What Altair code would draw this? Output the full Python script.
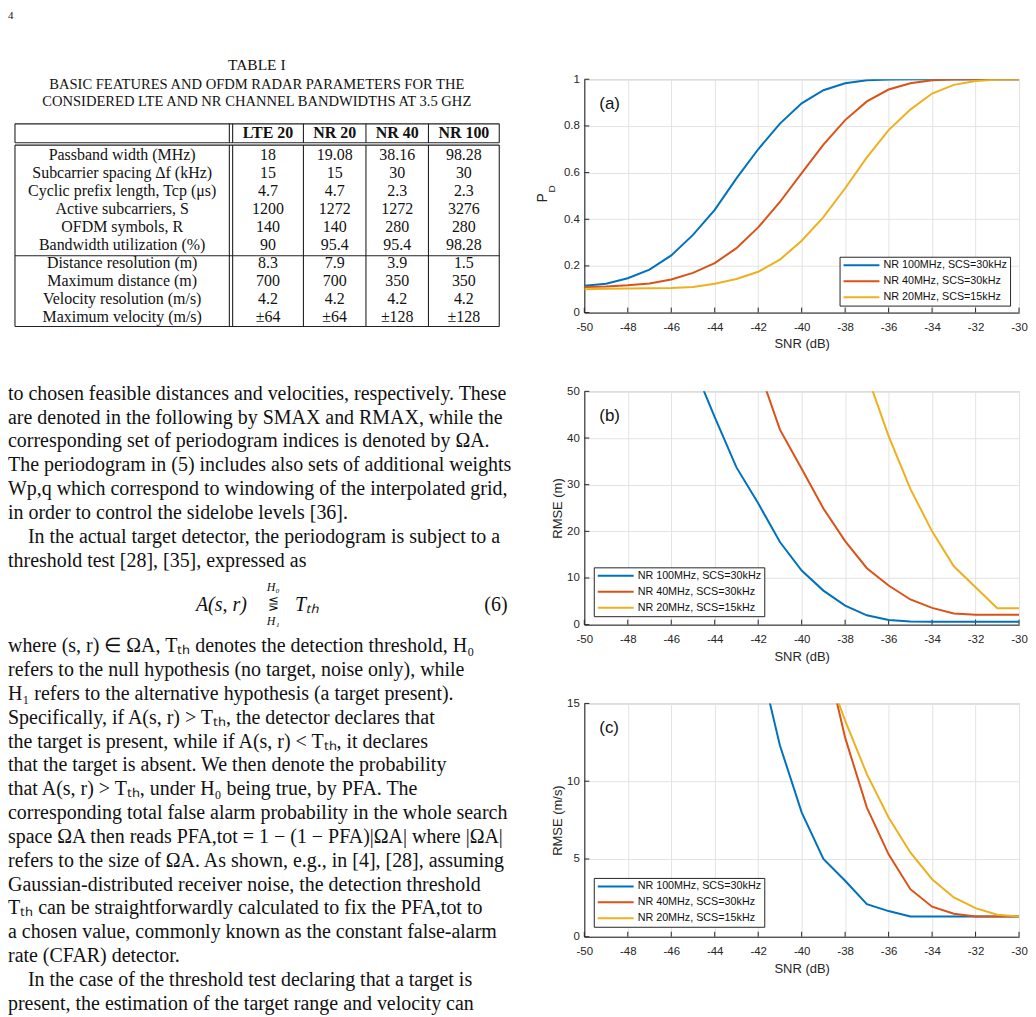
import altair as alt
import pandas as pd

# ------------------------------------------------------------------ data
snr_db = list(range(-50, -29))
series_names = ["NR 100MHz, SCS=30kHz", "NR 40MHz, SCS=30kHz", "NR 20MHz, SCS=15kHz"]
series_colors = ["#0072BD", "#D95319", "#EDB120"]

pd_nr100 = [0.115, 0.124, 0.147, 0.184, 0.245, 0.333, 0.44, 0.575, 0.70, 0.81, 0.897,
            0.953, 0.983, 0.996, 0.999, 1, 1, 1, 1, 1, 1]
pd_nr40 = [0.11, 0.112, 0.117, 0.125, 0.142, 0.17, 0.212, 0.276, 0.365, 0.474, 0.598,
           0.72, 0.825, 0.905, 0.956, 0.983, 0.996, 0.999, 1, 1, 1]
pd_nr20 = [0.10, 0.102, 0.103, 0.104, 0.105, 0.11, 0.124, 0.144, 0.175, 0.227, 0.308,
           0.409, 0.533, 0.665, 0.782, 0.87, 0.939, 0.976, 0.993, 0.999, 1.0]

range_nr100 = [None] * 5 + [55.7, 44.5, 33.7, 26.0, 17.7, 11.6, 7.3, 4.1, 2.0, 1.0, 0.7,
                            0.6, 0.6, 0.6, 0.6, 0.6]
range_nr40 = [None] * 8 + [55.2, 41.8, 33.4, 24.9, 17.9, 12.1, 8.4, 5.4, 3.6, 2.4, 2.1, 2.1, 2.1]
range_nr20 = [None] * 13 + [53.6, 40.4, 29.1, 20.0, 12.5, 8.0, 3.5, 3.5]

vel_nr100 = [None] * 8 + [18.2, 12.3, 8.0, 5.0, 3.6, 2.1, 1.65, 1.3, 1.3, 1.3, 1.3, 1.3, 1.3]
vel_nr40 = [None] * 11 + [18.8, 12.8, 8.3, 5.3, 3.06, 1.93, 1.48, 1.3, 1.3, 1.3]
vel_nr20 = [None] * 11 + [17.7, 13.9, 10.45, 7.67, 5.42, 3.7, 2.53, 1.84, 1.41, 1.3]

x_ticks = list(range(-50, -29, 2))
pd_ticks = [0, 0.2, 0.4, 0.6, 0.8, 1]
range_ticks = [0, 10, 20, 30, 40, 50]
vel_ticks = [0, 5, 10, 15]

# table I
table_headers = ["LTE 20", "NR 20", "NR 40", "NR 100"]
table_row_labels = ["Passband width (MHz)", "Subcarrier spacing Δf (kHz)",
                    "Cyclic prefix length, Tcp (μs)", "Active subcarriers, S",
                    "OFDM symbols, R", "Bandwidth utilization (%)",
                    "Distance resolution (m)", "Maximum distance (m)",
                    "Velocity resolution (m/s)", "Maximum velocity (m/s)"]
col_lte20 = ["18", "15", "4.7", "1200", "140", "90", "8.3", "700", "4.2", "±64"]
col_nr20 = ["19.08", "15", "4.7", "1272", "140", "95.4", "7.9", "700", "4.2", "±64"]
col_nr40 = ["38.16", "30", "2.3", "1272", "280", "95.4", "3.9", "350", "4.2", "±128"]
col_nr100 = ["98.28", "30", "2.3", "3276", "280", "98.28", "1.5", "350", "4.2", "±128"]

page_number = "4"
table_title = "TABLE I"
table_caption = ["BASIC FEATURES AND OFDM RADAR PARAMETERS FOR THE",
                 "CONSIDERED LTE AND NR CHANNEL BANDWIDTHS AT 3.5 GHZ"]

para_before = [
    "to chosen feasible distances and velocities, respectively. These",
    "are denoted in the following by SMAX and RMAX, while the",
    "corresponding set of periodogram indices is denoted by ΩA.",
    "The periodogram in (5) includes also sets of additional weights",
    "Wp,q which correspond to windowing of the interpolated grid,",
    "in order to control the sidelobe levels [36].",
    "In the actual target detector, the periodogram is subject to a",
    "threshold test [28], [35], expressed as",
]
equation_terms = ["A(s, r)", "Tₜₕ"]
equation_relation = "⋚"
equation_number = "(6)"
equation_limits = ["H₀", "H₁"]
para_after = [
    "where (s, r) ∈ ΩA, Tₜₕ denotes the detection threshold, H₀",
    "refers to the null hypothesis (no target, noise only), while",
    "H₁ refers to the alternative hypothesis (a target present).",
    "Specifically, if A(s, r) > Tₜₕ, the detector declares that",
    "the target is present, while if A(s, r) < Tₜₕ, it declares",
    "that the target is absent. We then denote the probability",
    "that A(s, r) > Tₜₕ, under H₀ being true, by PFA. The",
    "corresponding total false alarm probability in the whole search",
    "space ΩA then reads PFA,tot = 1 − (1 − PFA)|ΩA| where |ΩA|",
    "refers to the size of ΩA. As shown, e.g., in [4], [28], assuming",
    "Gaussian-distributed receiver noise, the detection threshold",
    "Tₜₕ can be straightforwardly calculated to fix the PFA,tot to",
    "a chosen value, commonly known as the constant false-alarm",
    "rate (CFAR) detector.",
    "In the case of the threshold test declaring that a target is",
    "present, the estimation of the target range and velocity can",
]

# ------------------------------------------------------------------ style
SANS = "Liberation Sans"
SERIF = "Liberation Serif"
AX = "#262626"
W, H = 436, 234


def long_df(lists):
    rows = []
    for name, vals in zip(series_names, lists):
        for x, v in zip(snr_db, vals):
            if v is not None:
                rows.append({"snr": x, "val": v, "series": name})
    return pd.DataFrame(rows)


def make_panel(df, y_domain, y_ticks, y_title, letter, legend_xy, pd_title=False):
    xenc = alt.X("snr:Q", scale=alt.Scale(domain=[-50, -30], nice=False, zero=False),
                 axis=alt.Axis(values=x_ticks, title="SNR (dB)",
                               labelExpr="toString(datum.value)"))
    yaxis = alt.Axis(values=y_ticks, labelExpr="toString(datum.value)",
                     title=None if pd_title else y_title)
    yenc = alt.Y("val:Q", scale=alt.Scale(domain=y_domain, nice=False, zero=False), axis=yaxis)

    lines = alt.Chart(df).mark_line(clip=True, strokeWidth=2).encode(
        x=xenc, y=yenc,
        color=alt.Color("series:N",
                        scale=alt.Scale(domain=series_names, range=series_colors),
                        legend=alt.Legend(title=None, orient="none",
                                          legendX=legend_xy[0], legendY=legend_xy[1],
                                          symbolType="stroke", symbolSize=1296,
                                          symbolStrokeWidth=2, labelFont=SANS,
                                          labelFontSize=10.8, labelColor="#111",
                                          strokeColor=AX, fillColor="white",
                                          clipHeight=11, padding=3, rowPadding=4,
                                          labelOffset=3)),
    )
    xt = alt.Chart(pd.DataFrame({"snr": x_ticks})).mark_rule(color=AX, strokeWidth=1).encode(
        x=xenc, y=alt.value(H), y2=alt.value(H - 5))
    yt = alt.Chart(pd.DataFrame({"val": y_ticks})).mark_rule(color=AX, strokeWidth=1).encode(
        y=yenc, x=alt.value(0), x2=alt.value(5))
    lab = alt.Chart(pd.DataFrame({"t": [letter]})).mark_text(
        align="left", baseline="middle", font=SANS, fontSize=17, color="#111").encode(
        text="t:N", x=alt.value(15), y=alt.value(25))
    layers = [xt, yt, lines, lab]
    if pd_title:
        p = alt.Chart(pd.DataFrame({"t": ["P"]})).mark_text(
            angle=270, align="center", baseline="middle", font=SANS, fontSize=14, color=AX
        ).encode(text="t:N", x=alt.value(-41), y=alt.value(119))
        d = alt.Chart(pd.DataFrame({"t": ["D"]})).mark_text(
            angle=270, align="center", baseline="middle", font=SANS, fontSize=10, color=AX
        ).encode(text="t:N", x=alt.value(-32), y=alt.value(110))
        layers += [p, d]
    return alt.layer(*layers).properties(
        width=W, height=H, view=alt.ViewBackground(stroke="#b5b5b5", strokeWidth=1))


chart_a = make_panel(long_df([pd_nr100, pd_nr40, pd_nr20]), [0, 1], pd_ticks, "PD", "(a)",
                     (256, 178), pd_title=True)
chart_b = make_panel(long_df([range_nr100, range_nr40, range_nr20]), [0, 50], range_ticks,
                     "RMSE (m)", "(b)", (9.5, 176.5))
chart_c = make_panel(long_df([vel_nr100, vel_nr40, vel_nr20]), [0, 15], vel_ticks,
                     "RMSE (m/s)", "(c)", (9.5, 175))

# ------------------------------------------------------------------ left text column
OX, OY = 8, 8  # page margin, to convert page layout positions to panel pixels


def text_layer(df, **kw):
    return alt.Chart(df).mark_text(font=SERIF, color="#111", **kw).encode(
        x=alt.X("px:Q", scale=None, axis=None),
        y=alt.Y("py:Q", scale=None, axis=None),
        text="text:N")


# table geometry (page layout)
t_left, t_right = 15, 500.7
v_lines = [15, 230, 233.3, 304.3, 367, 429.7, 500.7]
h_lines = [122.7, 141.7, 144, 255, 326]
col_centers = [(233.3 + 304.3) / 2, (304.3 + 367) / 2, (367 + 429.7) / 2, (429.7 + 500.7) / 2]
label_center = (15 + 230) / 2

seg = []
for h in h_lines:
    seg.append({"px": t_left - OX, "py": h - OY, "px2": t_right - OX, "py2": h - OY})
for v in v_lines:
    seg.append({"px": v - OX, "py": h_lines[0] - OY, "px2": v - OX, "py2": h_lines[1] - OY})
    seg.append({"px": v - OX, "py": h_lines[2] - OY, "px2": v - OX, "py2": h_lines[4] - OY})
rules = alt.Chart(pd.DataFrame(seg)).mark_rule(color="#222", strokeWidth=1.1).encode(
    x=alt.X("px:Q", scale=None, axis=None), y=alt.Y("py:Q", scale=None, axis=None),
    x2="px2:Q", y2="py2:Q")

head_df = pd.DataFrame({"text": table_headers,
                        "px": [c - OX for c in col_centers], "py": [132 - OY] * 4})
cells = []
for i, lab_txt in enumerate(table_row_labels):
    y = 154 + 18 * i - OY
    cells.append({"text": lab_txt, "px": label_center - OX, "py": y})
    for c, col in zip(col_centers, [col_lte20, col_nr20, col_nr40, col_nr100]):
        cells.append({"text": col[i], "px": c - OX, "py": y})
cell_df = pd.DataFrame(cells)

pn_df = pd.DataFrame({"text": [page_number], "px": [0], "py": [1]})
tt_df = pd.DataFrame({"text": [table_title], "px": [257.5 - OX], "py": [64 - OY]})
cap_df = pd.DataFrame({"text": table_caption, "px": [257.5 - OX] * 2, "py": [83.5 - OY, 100.5 - OY]})

body = []
for i, line in enumerate(para_before):
    body.append({"text": line, "px": 20 if i == 6 else 0, "py": 393.3 - OY + 24 * i})
for j, line in enumerate(para_after):
    body.append({"text": line, "px": 20 if j == 14 else 0, "py": 646.7 - OY + 23.9 * j})
body_df = pd.DataFrame(body)

eq_df = pd.DataFrame({"text": equation_terms, "px": [222 - OX, 308 - OX], "py": [605 - OY] * 2})
rel_df = pd.DataFrame({"text": [equation_relation], "px": [274 - OX], "py": [604 - OY]})
eqn_df = pd.DataFrame({"text": [equation_number], "px": [509 - OX], "py": [605 - OY]})
lim_df = pd.DataFrame({"text": equation_limits, "px": [274 - OX] * 2, "py": [587 - OY, 621 - OY]})

left = alt.layer(
    rules,
    text_layer(pn_df, align="left", baseline="top", fontSize=11),
    text_layer(tt_df, align="center", baseline="middle", fontSize=15.5),
    text_layer(cap_df, align="center", baseline="middle", fontSize=14.6),
    text_layer(head_df, align="center", baseline="middle", fontSize=16, fontWeight="bold"),
    text_layer(cell_df, align="center", baseline="middle", fontSize=16),
    text_layer(body_df, align="left", baseline="middle", fontSize=20),
    text_layer(eq_df, align="center", baseline="middle", fontSize=20, fontStyle="italic"),
    text_layer(rel_df, align="center", baseline="middle", fontSize=13),
    text_layer(eqn_df, align="right", baseline="middle", fontSize=20),
    text_layer(lim_df, align="center", baseline="middle", fontSize=12, fontStyle="italic"),
).properties(width=505, height=1000, view=alt.ViewBackground(strokeWidth=0))

spacer = alt.Chart(pd.DataFrame({"z": [0]})).mark_point(opacity=0, size=1).encode(
    x=alt.value(100), y=alt.value(35)).properties(
    width=W, height=70, view=alt.ViewBackground(strokeWidth=0))

plots = alt.vconcat(chart_a, chart_b, chart_c, spacing=79, bounds="flush").resolve_scale(
    color="independent", x="independent", y="independent").resolve_legend(color="independent")
right = alt.vconcat(spacer, plots, spacing=0, bounds="flush").resolve_scale(
    color="independent").resolve_legend(color="independent")

chart = (
    alt.hconcat(left, right, spacing=73, bounds="flush")
    .resolve_scale(color="independent").resolve_legend(color="independent")
    .properties(padding=0, background="white")
    .configure_view(strokeWidth=0)
    .configure_axis(labelFont=SANS, labelFontSize=11.5, labelColor=AX, titleFont=SANS,
                    titleFontSize=13, titleFontWeight="normal", titleColor=AX,
                    domainColor=AX, domainWidth=1, ticks=False, tickSize=0,
                    gridColor="#e3e3e3", gridWidth=1, labelFlush=False)
    .configure_axisX(labelPadding=8.5, titlePadding=5.5, minExtent=20, maxExtent=20)
    .configure_axisY(labelPadding=5, titlePadding=2, minExtent=18, maxExtent=18)
)

chart.save("out.html", embed_options={"renderer": "svg", "actions": False})
